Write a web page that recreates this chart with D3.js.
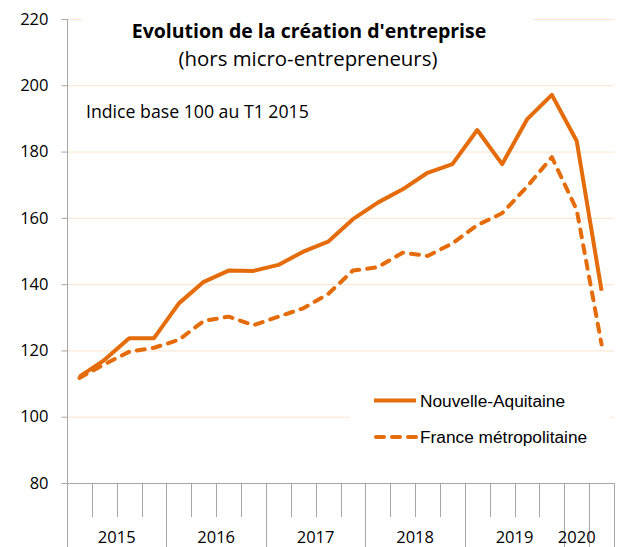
<!DOCTYPE html>
<html>
<head>
<meta charset="utf-8">
<script src="https://cdn.jsdelivr.net/npm/d3@7"></script>
<style>
  body { margin: 0; background: #fff; }
  svg text { font-family: "Open Sans", Lato, sans-serif; fill: #000; }
  .legend text { font-family: "Liberation Sans", Arial, sans-serif; }
</style>
</head>
<body>
<div id="chart"></div>
<script>
var width = 622,
  height = 547;

// quarters T1 2015 .. T2 2020
var quarters = ["T1 2015", "T2 2015", "T3 2015", "T4 2015",
  "T1 2016", "T2 2016", "T3 2016", "T4 2016",
  "T1 2017", "T2 2017", "T3 2017", "T4 2017",
  "T1 2018", "T2 2018", "T3 2018", "T4 2018",
  "T1 2019", "T2 2019", "T3 2019", "T4 2019",
  "T1 2020", "T2 2020"];
// year row of the category axis (last cell is blank in the source sheet)
var quarterYears = ["2015", "2015", "2015", "2015",
  "2016", "2016", "2016", "2016",
  "2017", "2017", "2017", "2017",
  "2018", "2018", "2018", "2018",
  "2019", "2019", "2019", "2019",
  "2020", ""];
var nouvelleAquitaine = [112.1, 117.1, 123.7, 123.7, 134.2, 140.7, 144.1, 144.0,
  145.8, 149.8, 152.8, 159.6, 164.6, 168.6, 173.6, 176.2,
  186.5, 176.2, 189.7, 197.1, 183.2, 138.0];
var franceMetro = [111.7, 115.8, 119.6, 120.8, 123.2, 128.9, 130.2, 127.6,
  130.2, 132.7, 137.0, 144.1, 145.1, 149.5, 148.5, 152.3,
  157.8, 161.4, 169.4, 178.3, 162.4, 121.8];
var yTicks = [80, 100, 120, 140, 160, 180, 200, 220];

var orange = "#e46c0a",
  gridColor = "#fde3cc",
  axisColor = "#a6a6a6";

var plot = { left: 67, right: 614, top: 19, bottom: 483 };

var x = d3.scaleBand()
  .domain(quarters)
  .range([plot.left, plot.right])
  .padding(0);

var y = d3.scaleLinear()
  .domain([80, 220])
  .range([plot.bottom, plot.top]);

var svg = d3.select("#chart").append("svg")
  .attr("width", width)
  .attr("height", height);

// gridlines
svg.append("g")
  .selectAll("line")
  .data(yTicks.filter(function(d) { return d > 80; }))
  .enter().append("line")
    .attr("x1", plot.left)
    .attr("x2", plot.right)
    .attr("y1", function(d) { return y(d) + 0.5; })
    .attr("y2", function(d) { return y(d) + 0.5; })
    .attr("stroke", gridColor)
    .attr("stroke-width", 1);

// y axis
var yAxis = svg.append("g")
  .attr("transform", "translate(" + (plot.left + 0.5) + ",0)")
  .call(d3.axisLeft(y).tickValues(yTicks).tickSize(6).tickPadding(13).tickSizeOuter(0));
yAxis.select(".domain").attr("stroke", axisColor).attr("d", "M0," + plot.top + "V" + height);
yAxis.selectAll(".tick line").attr("stroke", axisColor);
yAxis.selectAll(".tick text")
  .attr("font-family", null)
  .attr("font-size", 16.5)
  .attr("fill", "#000");

// x axis: baseline, quarter ticks and year groups
var bx = svg.append("g");
bx.append("line")
  .attr("x1", plot.left).attr("x2", plot.right)
  .attr("y1", plot.bottom + 0.5).attr("y2", plot.bottom + 0.5)
  .attr("stroke", axisColor);

var boundaries = d3.range(quarters.length + 1);
function boundaryX(i) {
  return i < quarters.length ? x(quarters[i]) : x.range()[1];
}
function isYearEdge(i) {
  return i === 0 || i === quarters.length || quarterYears[i] !== quarterYears[i - 1];
}
bx.selectAll(".qtick")
  .data(boundaries)
  .enter().append("line")
    .attr("class", "qtick")
    .attr("x1", function(i) { return Math.round(boundaryX(i)) + 0.5; })
    .attr("x2", function(i) { return Math.round(boundaryX(i)) + 0.5; })
    .attr("y1", plot.bottom)
    .attr("y2", function(i) { return isYearEdge(i) ? height : plot.bottom + 34; })
    .attr("stroke", axisColor);

var yearGroups = [];
quarterYears.forEach(function(yr, i) {
  if (i === 0 || yr !== quarterYears[i - 1]) {
    yearGroups.push({ year: yr, first: i, last: i });
  } else {
    yearGroups[yearGroups.length - 1].last = i;
  }
});
bx.selectAll(".year")
  .data(yearGroups.filter(function(g) { return g.year; }))
  .enter().append("text")
    .attr("class", "year")
    .attr("x", function(g) { return (x(quarters[g.first]) + x(quarters[g.last]) + x.bandwidth()) / 2; })
    .attr("y", 543)
    .attr("text-anchor", "middle")
    .attr("font-size", 16.5)
    .text(function(g) { return g.year; });

// title block (white box hides the top gridline like the source)
svg.append("rect")
  .attr("x", 82).attr("y", 12)
  .attr("width", 451).attr("height", 66)
  .attr("fill", "#fff");
svg.append("text")
  .attr("x", 309).attr("y", 38)
  .attr("text-anchor", "middle")
  .attr("font-size", 19.5)
  .attr("font-weight", "bold")
  .text("Evolution de la création d'entreprise");
svg.append("text")
  .attr("x", 308).attr("y", 66)
  .attr("text-anchor", "middle")
  .attr("font-size", 20.4)
  .text("(hors micro-entrepreneurs)");
svg.append("text")
  .attr("x", 86).attr("y", 118)
  .attr("font-size", 17.7)
  .text("Indice base 100 au T1 2015");

// series
var line = d3.line()
  .x(function(d, i) { return x(quarters[i]) + x.bandwidth() / 2; })
  .y(function(d) { return y(d); });

svg.append("path")
  .datum(franceMetro)
  .attr("fill", "none")
  .attr("stroke", orange)
  .attr("stroke-width", 4)
  .attr("stroke-linejoin", "round")
  .attr("stroke-linecap", "round")
  .attr("stroke-dasharray", "8,8")
  .attr("d", line);

svg.append("path")
  .datum(nouvelleAquitaine)
  .attr("fill", "none")
  .attr("stroke", orange)
  .attr("stroke-width", 4)
  .attr("stroke-linejoin", "round")
  .attr("d", line);

// legend
var legend = svg.append("g").attr("class", "legend");
legend.append("rect")
  .attr("x", 350).attr("y", 380)
  .attr("width", 260).attr("height", 75)
  .attr("fill", "#fff");
var legendItems = [
  { name: "Nouvelle-Aquitaine", dash: null, y: 400.5 },
  { name: "France métropolitaine", dash: "8,8", y: 437 }
];
var li = legend.selectAll(".item")
  .data(legendItems)
  .enter().append("g")
    .attr("class", "item");
li.append("line")
  .attr("x1", function(d) { return d.dash ? 376 : 374; })
  .attr("x2", 416)
  .attr("y1", function(d) { return d.y; })
  .attr("y2", function(d) { return d.y; })
  .attr("stroke", orange)
  .attr("stroke-width", 4)
  .attr("stroke-linecap", function(d) { return d.dash ? "round" : "butt"; })
  .attr("stroke-dasharray", function(d) { return d.dash; });
li.append("text")
  .attr("x", 420)
  .attr("y", function(d) { return d.y + 6; })
  .attr("font-size", 17.3)
  .text(function(d) { return d.name; });
</script>
</body>
</html>
